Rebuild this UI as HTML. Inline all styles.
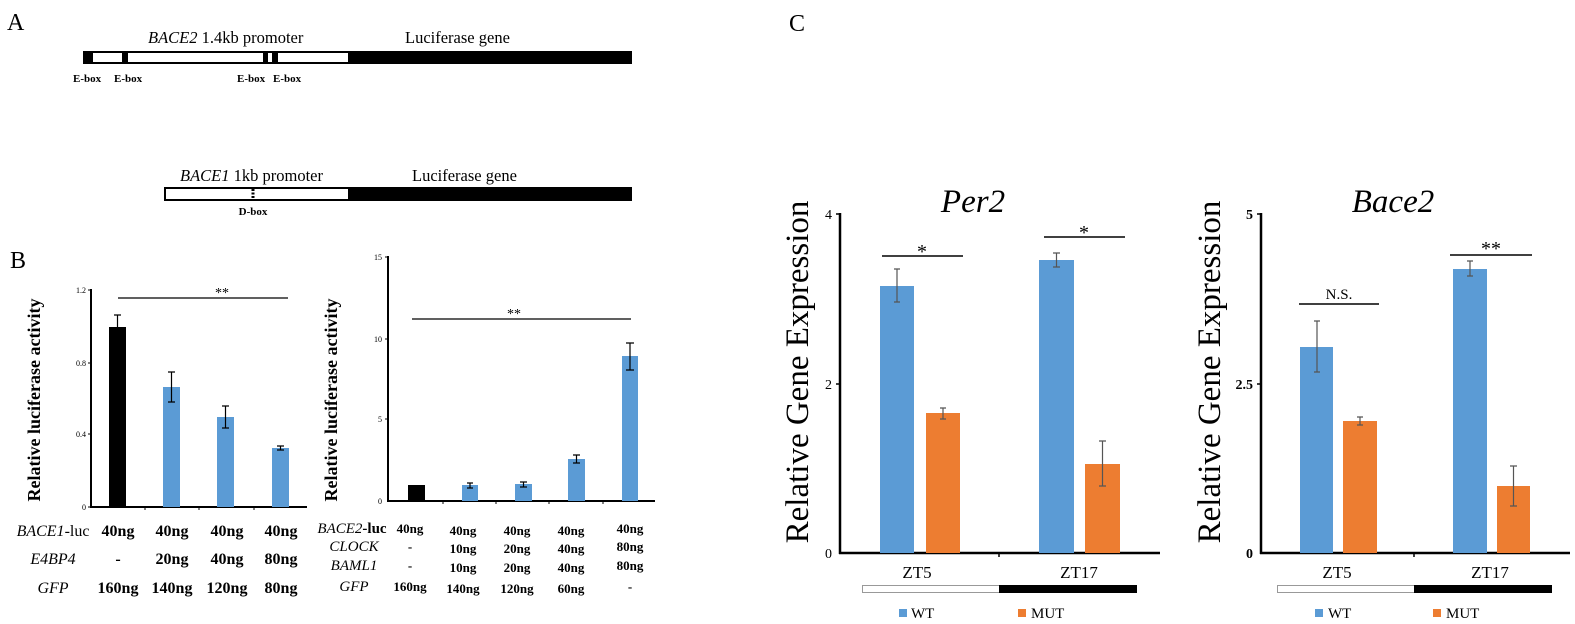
<!DOCTYPE html>
<html><head><meta charset="utf-8"><style>html,body{margin:0;padding:0;background:#fff}svg{display:block}</style></head>
<body>
<svg width="1575" height="624" viewBox="0 0 1575 624" xmlns="http://www.w3.org/2000/svg" font-family="Liberation Serif, serif">
<!-- Panel A -->
<text x="7" y="30" font-size="24">A</text>
<text x="148" y="43" font-size="16.5"><tspan font-style="italic">BACE2</tspan> 1.4kb promoter</text>
<text x="405" y="43" font-size="16.5">Luciferase gene</text>
<rect x="83" y="51" width="549" height="13" fill="#000"/>
<rect x="85.5" y="53" width="262.5" height="9" fill="#fff"/>
<rect x="85.5" y="53" width="7.5" height="9" fill="#000"/>
<rect x="122" y="53" width="6" height="9" fill="#000"/>
<rect x="263" y="53" width="5" height="9" fill="#000"/>
<rect x="272" y="53" width="6" height="9" fill="#000"/>
<g font-size="11" font-weight="bold">
<text x="73" y="82">E-box</text><text x="114" y="82">E-box</text><text x="237" y="82">E-box</text><text x="273" y="82">E-box</text>
</g>
<text x="180" y="181" font-size="16.5"><tspan font-style="italic">BACE1</tspan>  1kb promoter</text>
<text x="412" y="181" font-size="16.5">Luciferase gene</text>
<rect x="164" y="187" width="468" height="14" fill="#000"/>
<rect x="166" y="189" width="182" height="10" fill="#fff"/>
<line x1="253" y1="189" x2="253" y2="199" stroke="#000" stroke-width="3" stroke-dasharray="2,1.5"/>
<text x="253" y="215" font-size="11" font-weight="bold" text-anchor="middle">D-box</text>

<!-- Panel B left -->
<text x="10" y="268" font-size="24">B</text>
<text transform="translate(40,400) rotate(-90)" font-size="18" font-weight="bold" text-anchor="middle">Relative luciferase activity</text>
<g stroke="#000" stroke-width="2"><line x1="91" y1="289" x2="91" y2="507"/><line x1="90" y1="507" x2="307" y2="507"/></g>
<g stroke="#000" stroke-width="1"><line x1="88" y1="290" x2="91" y2="290"/><line x1="88" y1="363" x2="91" y2="363"/><line x1="88" y1="434" x2="91" y2="434"/><line x1="88" y1="507" x2="91" y2="507"/>
<line x1="145" y1="507" x2="145" y2="510"/><line x1="199" y1="507" x2="199" y2="510"/><line x1="254" y1="507" x2="254" y2="510"/></g>
<g font-size="8" text-anchor="end"><text x="86" y="293">1.2</text><text x="86" y="366">0.8</text><text x="86" y="437">0.4</text><text x="86" y="510">0</text></g>
<rect x="109" y="327" width="17" height="180" fill="#000"/>
<rect x="163" y="387" width="17" height="120" fill="#5b9bd5"/>
<rect x="217" y="417" width="17" height="90" fill="#5b9bd5"/>
<rect x="272" y="448" width="17" height="59" fill="#5b9bd5"/>
<g stroke="#000" stroke-width="1.2">
<path d="M117.5 315V340M114 315h7M114 340h7"/>
<path d="M171.5 372V402M168 372h7M168 402h7"/>
<path d="M225.5 406V428M222 406h7M222 428h7"/>
<path d="M280.5 446V450M277 446h7M277 450h7"/>
<line x1="118" y1="298" x2="288" y2="298"/>
</g>
<text x="222" y="297" font-size="14" text-anchor="middle">**</text>
<g font-size="16" font-weight="bold" text-anchor="middle">
<text x="118" y="536">40ng</text><text x="172" y="536">40ng</text><text x="227" y="536">40ng</text><text x="281" y="536">40ng</text>
<text x="118" y="564">-</text><text x="172" y="564">20ng</text><text x="227" y="564">40ng</text><text x="281" y="564">80ng</text>
<text x="118" y="593">160ng</text><text x="172" y="593">140ng</text><text x="227" y="593">120ng</text><text x="281" y="593">80ng</text>
</g>
<g font-size="16" font-style="italic" text-anchor="middle">
<text x="53" y="536"><tspan>BACE1</tspan><tspan font-style="normal">-luc</tspan></text>
<text x="53" y="564">E4BP4</text><text x="53" y="593">GFP</text>
</g>

<!-- Panel B right -->
<text transform="translate(337,400) rotate(-90)" font-size="18" font-weight="bold" text-anchor="middle">Relative luciferase activity</text>
<g stroke="#000" stroke-width="2"><line x1="388" y1="256" x2="388" y2="502"/><line x1="387" y1="501" x2="655" y2="501"/></g>
<g stroke="#000" stroke-width="1"><line x1="385" y1="257" x2="388" y2="257"/><line x1="385" y1="339" x2="388" y2="339"/><line x1="385" y1="419" x2="388" y2="419"/>
<line x1="443" y1="501" x2="443" y2="504"/><line x1="496" y1="501" x2="496" y2="504"/><line x1="549" y1="501" x2="549" y2="504"/><line x1="603" y1="501" x2="603" y2="504"/></g>
<g font-size="8" text-anchor="end"><text x="382" y="260">15</text><text x="382" y="342">10</text><text x="382" y="422">5</text><text x="382" y="504">0</text></g>
<rect x="408" y="485" width="17" height="16" fill="#000"/>
<rect x="462" y="485" width="16" height="16" fill="#5b9bd5"/>
<rect x="515" y="484" width="17" height="17" fill="#5b9bd5"/>
<rect x="568" y="459" width="17" height="42" fill="#5b9bd5"/>
<rect x="622" y="356" width="16" height="145" fill="#5b9bd5"/>
<g stroke="#000" stroke-width="1.2">
<path d="M470 483V488M467 483h6M467 488h6"/>
<path d="M523.5 482V487M520 482h7M520 487h7"/>
<path d="M576.5 455V463M573 455h7M573 463h7"/>
<path d="M630 343V370M626 343h8M626 370h8"/>
<line x1="412" y1="319" x2="631" y2="319"/>
</g>
<text x="514" y="318" font-size="14" text-anchor="middle">**</text>
<g font-size="13" font-weight="bold" text-anchor="middle">
<text x="410" y="533">40ng</text><text x="463" y="535">40ng</text><text x="517" y="535">40ng</text><text x="571" y="535">40ng</text><text x="630" y="533">40ng</text>
<text x="410" y="551">-</text><text x="463" y="553">10ng</text><text x="517" y="553">20ng</text><text x="571" y="553">40ng</text><text x="630" y="551">80ng</text>
<text x="410" y="570">-</text><text x="463" y="572">10ng</text><text x="517" y="572">20ng</text><text x="571" y="572">40ng</text><text x="630" y="570">80ng</text>
<text x="410" y="591">160ng</text><text x="463" y="593">140ng</text><text x="517" y="593">120ng</text><text x="571" y="593">60ng</text><text x="630" y="591">-</text>
</g>
<g font-size="15" font-style="italic" text-anchor="middle">
<text x="352" y="533">BACE2<tspan font-style="normal" font-weight="bold">-luc</tspan></text>
<text x="354" y="551">CLOCK</text><text x="354" y="570">BAML1</text><text x="354" y="591">GFP</text>
</g>

<!-- Panel C -->
<text x="789" y="31" font-size="24">C</text>
<!-- Per2 -->
<text x="973" y="212" font-size="33" font-style="italic" text-anchor="middle">Per2</text>
<text transform="translate(808,372) rotate(-90)" font-size="33" text-anchor="middle">Relative Gene Expression</text>
<g stroke="#000" stroke-width="2.5"><line x1="840" y1="213" x2="840" y2="554"/><line x1="839" y1="553" x2="1160" y2="553"/></g>
<g stroke="#000" stroke-width="1.5"><line x1="836" y1="214" x2="840" y2="214"/><line x1="836" y1="384" x2="840" y2="384"/><line x1="999" y1="553" x2="999" y2="557"/></g>
<g font-size="14" text-anchor="end"><text x="832" y="219">4</text><text x="832" y="389">2</text><text x="832" y="558">0</text></g>
<rect x="880" y="286" width="34" height="267" fill="#5b9bd5"/>
<rect x="926" y="413" width="34" height="140" fill="#ed7d31"/>
<rect x="1039" y="260" width="35" height="293" fill="#5b9bd5"/>
<rect x="1085" y="464" width="35" height="89" fill="#ed7d31"/>
<g stroke="#555" stroke-width="1.2">
<path d="M897 269V302M894 269h6M894 302h6"/>
<path d="M943 408V419M940 408h6M940 419h6"/>
<path d="M1056.5 253V267M1053 253h7M1053 267h7"/>
<path d="M1102.5 441V486M1099 441h7M1099 486h7"/>
</g>
<g stroke="#000" stroke-width="1.5"><line x1="882" y1="256" x2="963" y2="256"/><line x1="1044" y1="237" x2="1125" y2="237"/></g>
<g font-size="20" text-anchor="middle"><text x="922" y="258">*</text><text x="1084" y="239">*</text></g>
<g font-size="17" text-anchor="middle"><text x="917" y="578">ZT5</text><text x="1079" y="578">ZT17</text></g>
<rect x="862.5" y="585.5" width="137" height="7" fill="#fff" stroke="#999" stroke-width="1"/>
<rect x="999" y="585" width="138" height="8" fill="#000"/>
<rect x="899" y="609" width="8" height="8" fill="#5b9bd5"/><text x="911" y="618" font-size="15">WT</text>
<rect x="1018" y="609" width="8" height="8" fill="#ed7d31"/><text x="1031" y="618" font-size="15">MUT</text>

<!-- Bace2 -->
<text x="1393" y="212" font-size="33" font-style="italic" text-anchor="middle">Bace2</text>
<text transform="translate(1220,372) rotate(-90)" font-size="33" text-anchor="middle">Relative Gene Expression</text>
<g stroke="#000" stroke-width="2.5"><line x1="1261" y1="213" x2="1261" y2="554"/><line x1="1260" y1="553" x2="1570" y2="553"/></g>
<g stroke="#000" stroke-width="1.5"><line x1="1257" y1="214" x2="1261" y2="214"/><line x1="1257" y1="384" x2="1261" y2="384"/><line x1="1414" y1="553" x2="1414" y2="557"/></g>
<g font-size="14" font-weight="bold" text-anchor="end"><text x="1253" y="219">5</text><text x="1253" y="389">2.5</text><text x="1253" y="558">0</text></g>
<rect x="1300" y="347" width="33" height="206" fill="#5b9bd5"/>
<rect x="1343" y="421" width="34" height="132" fill="#ed7d31"/>
<rect x="1453" y="269" width="34" height="284" fill="#5b9bd5"/>
<rect x="1497" y="486" width="33" height="67" fill="#ed7d31"/>
<g stroke="#555" stroke-width="1.2">
<path d="M1317 321V372M1314 321h6M1314 372h6"/>
<path d="M1360 417V425M1357 417h6M1357 425h6"/>
<path d="M1470 261V276M1467 261h6M1467 276h6"/>
<path d="M1513.5 466V506M1510 466h7M1510 506h7"/>
</g>
<g stroke="#000" stroke-width="1.5"><line x1="1299" y1="304" x2="1379" y2="304"/><line x1="1450" y1="255" x2="1532" y2="255"/></g>
<text x="1339" y="299" font-size="15" text-anchor="middle">N.S.</text>
<text x="1491" y="255" font-size="20" text-anchor="middle">**</text>
<g font-size="17" text-anchor="middle"><text x="1337" y="578">ZT5</text><text x="1490" y="578">ZT17</text></g>
<rect x="1277.5" y="585.5" width="137" height="7" fill="#fff" stroke="#999" stroke-width="1"/>
<rect x="1414" y="585" width="138" height="8" fill="#000"/>
<rect x="1315" y="609" width="8" height="8" fill="#5b9bd5"/><text x="1328" y="618" font-size="15">WT</text>
<rect x="1433" y="609" width="8" height="8" fill="#ed7d31"/><text x="1446" y="618" font-size="15">MUT</text>
</svg>
</body></html>
